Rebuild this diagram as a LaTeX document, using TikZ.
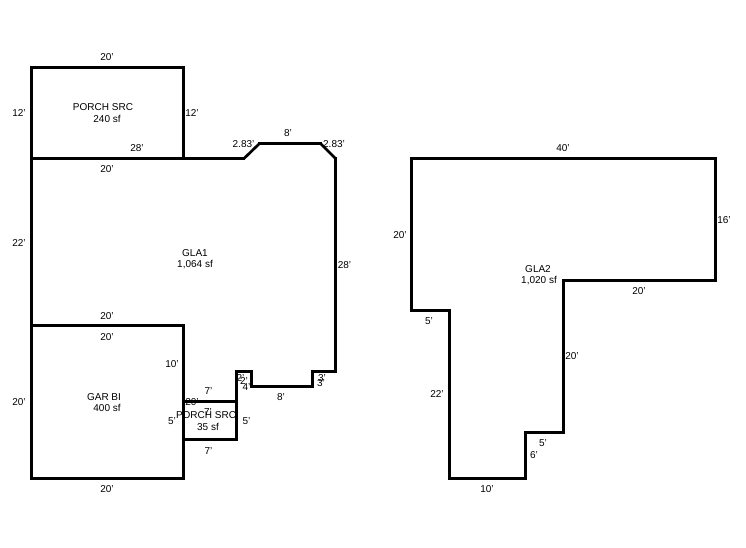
\documentclass[tikz,border=0pt]{standalone}
\usepackage{fontspec}
\setmainfont{Liberation Sans}
\usepackage{tikz}

\begin{document}
\begin{tikzpicture}
	 [x=1pt,y=-1pt,every node/.style={inner sep=0pt,font=\fontsize{10}{12}\selectfont,align=center},
	 wall/.style={line width=2.7pt,line cap=rect},
	 slant/.style={line width=2.7pt,line cap=round}]
	\useasboundingbox (0,0) rectangle (746,547);

	% porch on top
	  \coordinate (a) at (31.5,67.5);
	  \coordinate (b) at (183.5,67.5);
	  \coordinate (c) at (183.5,158.5);
	  \coordinate (d) at (31.5,158.5);
	\foreach \from/\to in {a/b,b/c,c/d,d/a}
    \draw[wall] (\from) -- (\to);

	\node (p1) at (103,107) {PORCH SRC};
	\node (p2) at (107,119) {240 sf};
	\node (t1) at (107,57) {20'};
	\node (t2) at (19,113) {12'};
	\node (t3) at (192,113) {12'};
	\node (t4) at (137,148) {28'};

	% GLA1
	  \coordinate (e) at (244,158.5);
	  \coordinate (f) at (259.5,143.5);
	  \coordinate (g) at (320.5,143.5);
	  \coordinate (h) at (335.5,158.5);
	  \coordinate (i) at (335.5,371.5);
	  \coordinate (j) at (312.5,371.5);
	  \coordinate (k) at (312.5,386.5);
	  \coordinate (l) at (251.5,386.5);
	  \coordinate (m) at (251.5,371.5);
	  \coordinate (n) at (236.5,371.5);
	  \coordinate (o) at (236.5,401.5);
	  \coordinate (p) at (183.5,401.5);
	  \coordinate (q) at (183.5,325.5);
	  \coordinate (r) at (31.5,325.5);
	\foreach \from/\to in {c/e,f/g,h/i,i/j,j/k,k/l,l/m,m/n,n/o,o/p,p/q,q/r,r/d}
    \draw[wall] (\from) -- (\to);
	\foreach \from/\to in {e/f,g/h}
    \draw[slant] (\from) -- (\to);

	\node (g1) at (195,253) {GLA1};
	\node (g2) at (195,265) {1,064 sf};
	\node (u1) at (107,169) {20'};
	\node (u2) at (19,243) {22'};
	\node (u3) at (243.5,144) {2.83'};
	\node (u4) at (288,133) {8'};
	\node (u5) at (334,144) {2.83'};
	\node (u6) at (344.5,265) {28'};
	\node (u7) at (107,316) {20'};
	\node (u8) at (172,364) {10'};
	\node (u9) at (208.5,391.5) {7'};
	\node (u10) at (192,402) {20'};
	\node (u11) at (281,397) {8'};
	\node (u12) at (240.5,378) {2'};
	\node (u13) at (244,381) {2'};
	\node (u14) at (246.5,387) {4'};
	\node (u15) at (322,378) {3'};
	\node (u16) at (321,383) {3'};

	% garage
	  \coordinate (s) at (183.5,478.5);
	  \coordinate (v) at (31.5,478.5);
	\foreach \from/\to in {q/s,s/v,v/r}
    \draw[wall] (\from) -- (\to);

	\node (b1) at (104,397) {GAR BI};
	\node (b2) at (107,408) {400 sf};
	\node (v1) at (107,337) {20'};
	\node (v2) at (19,402) {20'};
	\node (v3) at (107,489) {20'};

	% small porch
	  \coordinate (w) at (236.5,439.5);
	  \coordinate (x) at (183.5,439.5);
	\foreach \from/\to in {o/w,w/x}
    \draw[wall] (\from) -- (\to);

	\node (m1) at (206,415) {PORCH SRC};
	\node (m2) at (208,427) {35 sf};
	\node (w1) at (208,412) {7'};
	\node (w2) at (172,421) {5'};
	\node (w3) at (246.5,421) {5'};
	\node (w4) at (208.5,451.5) {7'};

	% GLA2
	  \coordinate (a2) at (411.5,158.5);
	  \coordinate (b2c) at (715.5,158.5);
	  \coordinate (c2) at (715.5,280.5);
	  \coordinate (d2) at (563.5,280.5);
	  \coordinate (e2) at (563.5,432.5);
	  \coordinate (f2) at (525.5,432.5);
	  \coordinate (g2c) at (525.5,478.5);
	  \coordinate (h2) at (449.5,478.5);
	  \coordinate (i2) at (449.5,310.5);
	  \coordinate (j2) at (411.5,310.5);
	\foreach \from/\to in {a2/b2c,b2c/c2,c2/d2,d2/e2,e2/f2,f2/g2c,g2c/h2,h2/i2,i2/j2,j2/a2}
    \draw[wall] (\from) -- (\to);

	\node (h1) at (538,269) {GLA2};
	\node (h3) at (539,281) {1,020 sf};
	\node (x1) at (563,148) {40'};
	\node (x2) at (724,220) {16'};
	\node (x3) at (400,235) {20'};
	\node (x4) at (639,291) {20'};
	\node (x5) at (429,321) {5'};
	\node (x6) at (437,394) {22'};
	\node (x7) at (572,356) {20'};
	\node (x8) at (543,443) {5'};
	\node (x9) at (534,455) {6'};
	\node (x10) at (487,489) {10'};
\end{tikzpicture}
\end{document}
